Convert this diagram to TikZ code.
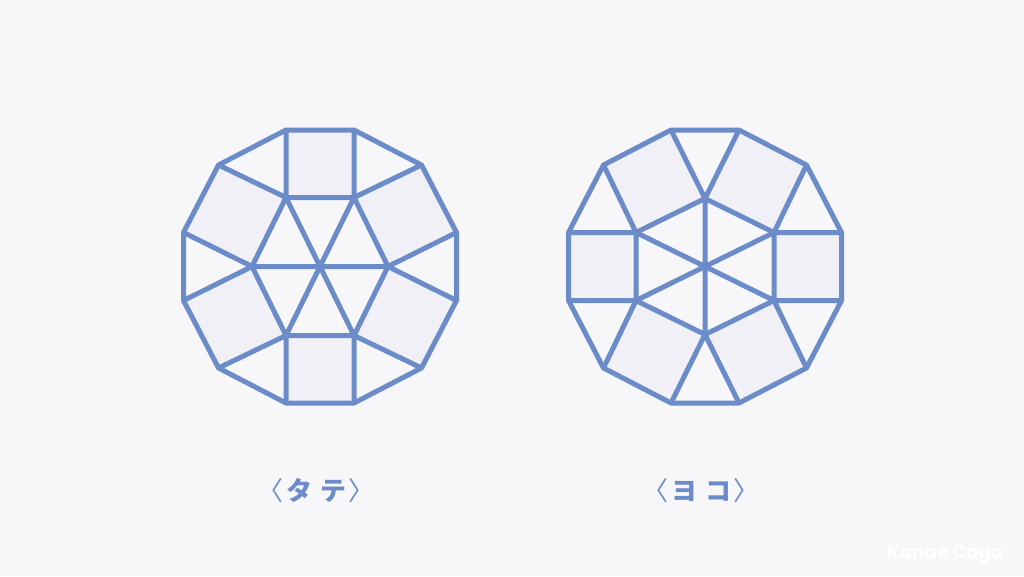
\documentclass[tikz,border=0pt]{standalone}
\usepackage{fontspec}
\usepackage{tikz}
\usepackage{xcolor}
\newfontfamily\jpfont{Noto Sans CJK JP}
\newfontfamily\signfont{Poppins}
\definecolor{tileblue}{RGB}{108,140,201}
\definecolor{tilefill}{RGB}{240,240,246}
\definecolor{paper}{RGB}{247,247,250}

% one dodecagon cut into a hexagon, six squares and six triangles
\newcommand{\dodecatiles}{%
	\foreach \n/\x/\y in {1/-34/-136.5, 2/34/-136.5, 3/101.5/-101.5, 4/136.5/-34,
		5/136.5/34, 6/101.5/101.5, 7/34/136.5, 8/-34/136.5, 9/-101.5/101.5,
		10/-136.5/34, 11/-136.5/-34, 12/-101.5/-101.5}
		\coordinate (o\n) at (\x,\y);
	\foreach \n/\x/\y in {1/-34/-69, 2/34/-69, 3/68/0, 4/34/69, 5/-34/69, 6/-68/0}
		\coordinate (h\n) at (\x,\y);
	\coordinate (c) at (0,0);
	\foreach \a/\b/\p/\q in {1/2/2/1, 2/3/4/3, 3/4/6/5, 4/5/8/7, 5/6/10/9, 6/1/12/11}
		\fill[tilefill] (h\a) -- (h\b) -- (o\p) -- (o\q) -- cycle;
	\draw[tile] (o1) -- (o2) -- (o3) -- (o4) -- (o5) -- (o6) -- (o7) -- (o8)
		-- (o9) -- (o10) -- (o11) -- (o12) -- cycle;
	\draw[tile] (h1) -- (h2) -- (h3) -- (h4) -- (h5) -- (h6) -- cycle;
	\draw[tile] (h1) -- (h4) (h2) -- (h5) (h3) -- (h6);
	\foreach \h/\a/\b in {1/12/1, 2/2/3, 3/4/5, 4/6/7, 5/8/9, 6/10/11}
		\draw[tile] (o\a) -- (h\h) -- (o\b);
}

\begin{document}
\begin{tikzpicture}[x=1pt, y=-1pt,
		tile/.style={draw=tileblue, line width=5pt, line join=round},
		caption/.style={text=tileblue, font=\jpfont\fontsize{26pt}{30pt}\selectfont, inner sep=0pt, anchor=base}]
	\fill[paper] (0,0) rectangle (1024,576);
	
	\begin{scope}[shift={(320,266.5)}]
		\dodecatiles
	\end{scope}
	\begin{scope}[shift={(705,266.5)}, rotate=90]
		\dodecatiles
	\end{scope}
	
	\node[caption] (tate) at (316,500) {〈\hspace{3pt}{\bfseries タ\hspace{8pt}テ}\hspace{2pt}〉};
	\node[caption] (yoko) at (701,500) {〈\hspace{3pt}{\bfseries ヨ\hspace{8pt}コ}\hspace{2pt}〉};
	
	\node[text=white, font=\signfont\bfseries\fontsize{18.5pt}{22pt}\selectfont, inner sep=0pt, anchor=base east] (sign) at (1003,558) {Kanae Cogo};
\end{tikzpicture}
\end{document}
